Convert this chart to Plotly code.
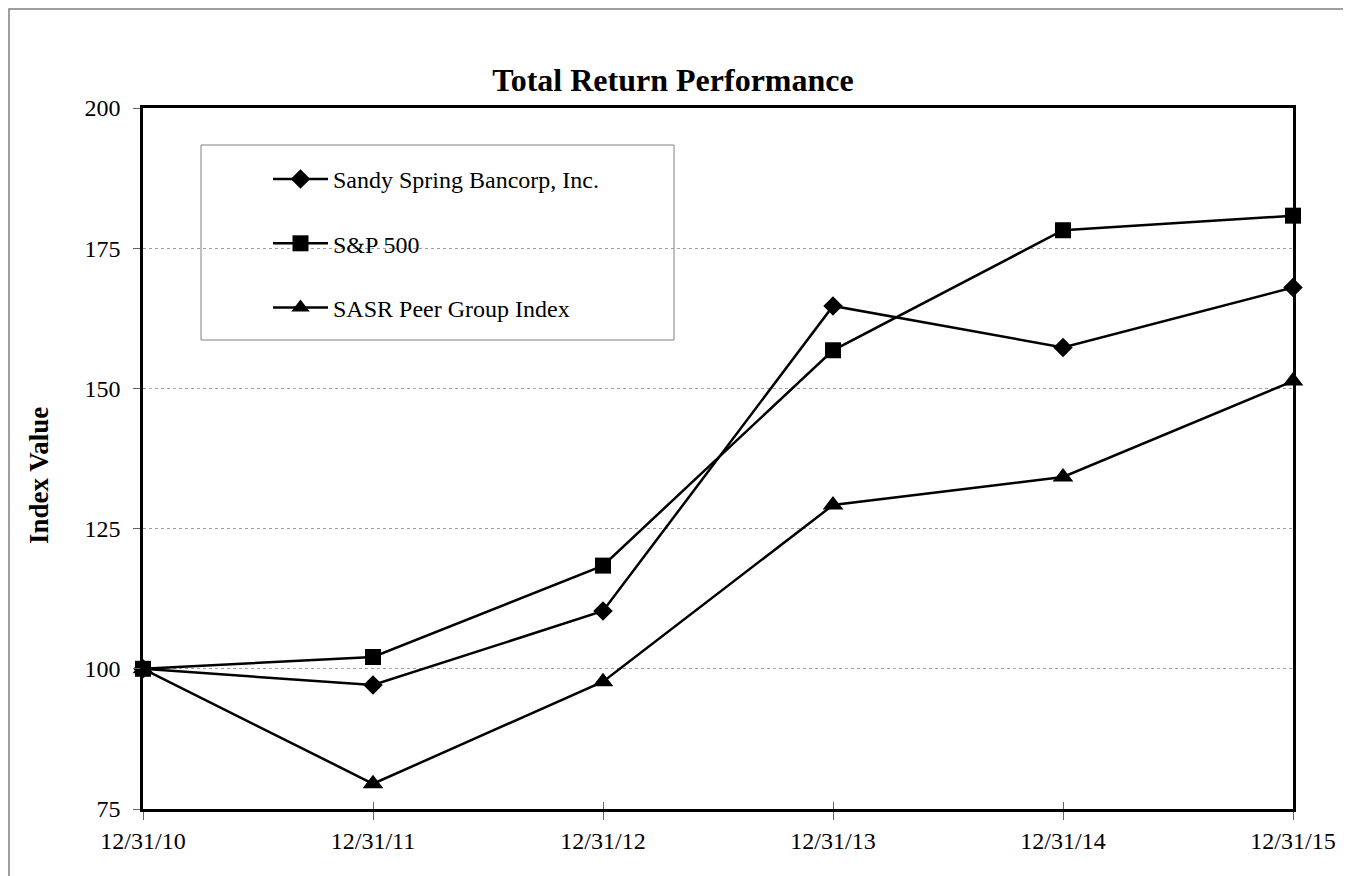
import plotly.graph_objects as go

dates = ["12/31/10", "12/31/11", "12/31/12", "12/31/13", "12/31/14", "12/31/15"]
sandy_spring = [100.0, 97.1, 110.3, 164.7, 157.3, 168.0]
sp500 = [100.0, 102.1, 118.4, 156.8, 178.2, 180.8]
sasr_peer = [100.0, 79.5, 97.7, 129.2, 134.2, 151.3]

y_ticks = [75, 100, 125, 150, 175, 200]

FONT = "Liberation Serif, Times New Roman, serif"

# page offset (body margin) compensation
OFF = 8
W, H = 1351 - OFF, 876 - OFF
L, T, R, B = 143 - OFF, 108 - OFF, 1293 - OFF, 809 - OFF
PW, PH = R - L, B - T


def px(xp):
    return (xp - OFF - L) / PW


def py(yp):
    return (B - (yp - OFF)) / PH


fig = go.Figure()

series = [
    ("Sandy Spring Bancorp, Inc.", sandy_spring, "diamond", 15),
    ("S&P 500", sp500, "square", 16),
    ("SASR Peer Group Index", sasr_peer, "triangle-up", 18),
]
for i, (name, vals, sym, sz) in enumerate(series):
    fig.add_trace(go.Scatter(
        x=dates, y=vals, name=name, mode="lines+markers",
        line=dict(color="black", width=2.5),
        marker=dict(symbol=sym, size=sz, color="black"),
        legendgroup=f"g{i}",
        cliponaxis=False,
    ))

# invisible trace on overlay axis for inside tick marks
fig.add_trace(go.Scatter(x=dates, y=sp500, xaxis="x2", mode="none",
                         showlegend=False, hoverinfo="skip"))

fig.update_layout(
    width=W, height=H,
    margin=dict(l=L, r=W - R, t=T, b=H - B),
    paper_bgcolor="white", plot_bgcolor="white",
    font=dict(family=FONT, size=24, color="black"),
    showlegend=True,
    legend=dict(
        x=px(268), y=py(157), xanchor="left", yanchor="top",
        bgcolor="rgba(0,0,0,0)", borderwidth=0,
        font=dict(family=FONT, size=24, color="black"),
        itemwidth=55, tracegroupgap=30,
        itemclick=False,
    ),
    xaxis=dict(
        type="category", range=[0, 5],
        showline=True, linecolor="black", linewidth=2.5, mirror=True,
        ticks="outside", ticklen=8, tickcolor="#666", tickwidth=1,
        showgrid=False, zeroline=False,
        tickfont=dict(family=FONT, size=24),
    ),
    xaxis2=dict(
        type="category", range=[0, 5], overlaying="x", anchor="y",
        ticks="inside", ticklen=7, tickcolor="#666", tickwidth=1,
        showticklabels=False, showgrid=False, showline=False, zeroline=False,
        side="bottom",
    ),
    yaxis=dict(
        range=[75, 200], tickvals=y_ticks,
        showline=True, linecolor="black", linewidth=2.5, mirror=True,
        ticks="outside", ticklen=7, tickcolor="#666", tickwidth=1,
        showgrid=True, gridcolor="#a0a0a0", gridwidth=1, griddash="dot",
        zeroline=False, ticklabelstandoff=8,
        tickfont=dict(family=FONT, size=24),
    ),
    title=dict(
        text="<b>Total Return Performance</b>",
        x=px(673), xref="paper", xanchor="center",
        y=1 - (80 - OFF) / H, yanchor="middle",
        font=dict(family=FONT, size=32, color="black"),
    ),
    annotations=[dict(
        text="<b>Index Value</b>", textangle=-90,
        xref="paper", yref="paper",
        x=px(39), y=py(476),
        xanchor="center", yanchor="middle", showarrow=False,
        font=dict(family=FONT, size=27, color="black"),
    )],
    shapes=[
        # legend box
        dict(type="rect", xref="paper", yref="paper",
             x0=px(201), x1=px(674), y0=py(340), y1=py(145),
             line=dict(color="#808080", width=1), fillcolor="white", layer="below"),
        # outer frame: open path along top and left edges
        dict(type="path", xref="paper", yref="paper",
             path=(f"M {px(1351)},{py(OFF + 1)} L {px(OFF + 1)},{py(OFF + 1)} "
                   f"L {px(OFF + 1)},{py(876)}"),
             line=dict(color="#808080", width=1.5), fillcolor="rgba(0,0,0,0)"),
    ],
)

fig.write_html("out.html")
